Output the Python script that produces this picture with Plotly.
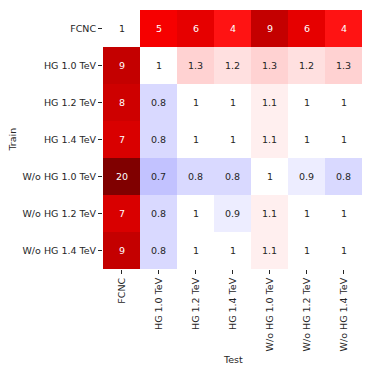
import numpy as np
import plotly.graph_objects as go

train_labels = ["FCNC", "HG 1.0 TeV", "HG 1.2 TeV", "HG 1.4 TeV",
                "W/o HG 1.0 TeV", "W/o HG 1.2 TeV", "W/o HG 1.4 TeV"]
test_labels = ["FCNC", "HG 1.0 TeV", "HG 1.2 TeV", "HG 1.4 TeV",
               "W/o HG 1.0 TeV", "W/o HG 1.2 TeV", "W/o HG 1.4 TeV"]

row_fcnc = [1, 5, 6, 4, 9, 6, 4]
row_hg10 = [9, 1, 1.3, 1.2, 1.3, 1.2, 1.3]
row_hg12 = [8, 0.8, 1, 1, 1.1, 1, 1]
row_hg14 = [7, 0.8, 1, 1, 1.1, 1, 1]
row_wo10 = [20, 0.7, 0.8, 0.8, 1, 0.9, 0.8]
row_wo12 = [7, 0.8, 1, 0.9, 1.1, 1, 1]
row_wo14 = [9, 0.8, 1, 1, 1.1, 1, 1]

values = np.array([row_fcnc, row_hg10, row_hg12, row_hg14,
                   row_wo10, row_wo12, row_wo14], dtype=float)
logv = np.log(values)
lim = np.abs(logv).max()

seismic = [[0.0, "rgb(0,0,77)"], [0.25, "rgb(0,0,255)"],
           [0.5, "rgb(255,255,255)"], [0.75, "rgb(255,0,0)"],
           [1.0, "rgb(128,0,0)"]]

FONT = "DejaVu Sans"
FS = 9.5
DARK = "#262626"

fig = go.Figure(go.Heatmap(
    z=logv, x=test_labels, y=train_labels,
    colorscale=seismic, zmin=-lim, zmax=lim,
    showscale=False, hoverinfo="skip", xgap=0, ygap=0,
))

def fmt(v):
    return f"{v:g}"

annotations = []
for i, tr in enumerate(train_labels):
    for j, te in enumerate(test_labels):
        v = values[i, j]
        color = "white" if np.log(v) / lim > 0.42 else DARK
        annotations.append(dict(
            x=te, y=tr, xref="x", yref="y", text=fmt(v), showarrow=False,
            font=dict(family=FONT, size=FS, color=color)))

annotations.append(dict(text="Test", x=0.5, y=-0.3475, xref="paper", yref="paper",
                        showarrow=False, xanchor="center", yanchor="middle",
                        font=dict(family=FONT, size=FS, color=DARK)))
annotations.append(dict(text="Train", x=-0.351, y=0.5, xref="paper", yref="paper",
                        showarrow=False, xanchor="center", yanchor="middle", textangle=-90,
                        font=dict(family=FONT, size=FS, color=DARK)))

fig.update_layout(
    width=374, height=374,
    margin=dict(l=103, r=12, t=10, b=105, autoexpand=False),
    paper_bgcolor="white", plot_bgcolor="white",
    font=dict(family=FONT, size=FS, color=DARK),
    annotations=annotations,
)
fig.update_xaxes(type="category", tickangle=-90, ticks="outside", ticklen=4,
                 tickwidth=1, tickcolor=DARK, showgrid=False, zeroline=False,
                 showline=False, automargin=False,
                 tickfont=dict(family=FONT, size=FS, color=DARK))
fig.update_yaxes(type="category", autorange="reversed", ticks="outside", ticklen=4,
                 tickwidth=1, tickcolor=DARK, showgrid=False, zeroline=False,
                 showline=False, automargin=False,
                 tickfont=dict(family=FONT, size=FS, color=DARK))

fig.write_html("out.html",
               config={"displayModeBar": False, "staticPlot": True},
               post_script="document.body.style.margin='0';document.body.style.padding='0';")
